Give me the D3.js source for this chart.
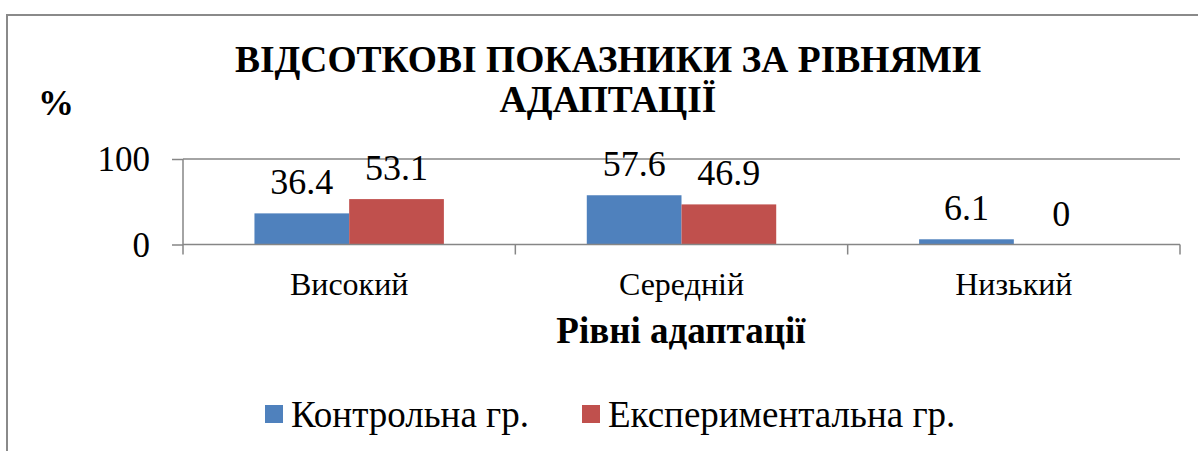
<!DOCTYPE html>
<html><head><meta charset="utf-8">
<script src="https://cdn.jsdelivr.net/npm/d3@7/dist/d3.min.js"></script>
<style>body{margin:0;background:#fff}svg{display:block}</style>
</head><body>
<svg id="c" width="1198" height="451"></svg>
<script>
const categories = ["Високий", "Середній", "Низький"];
const seriesNames = ["Контрольна гр.", "Експериментальна гр."];
const control = [36.4, 57.6, 6.1];
const experimental = [53.1, 46.9, 0];
const yTicks = [0, 100];
const colors = ["#4F81BD", "#C0504D"];
const titleLines = ["ВІДСОТКОВІ ПОКАЗНИКИ ЗА РІВНЯМИ", "АДАПТАЦІЇ"];
const xTitle = "Рівні адаптації";
const yTitle = "%";

(function () {
const FONT = "'Liberation Serif', 'Times New Roman', serif";
const svg = d3.select("#c");
const pL = 183, pR = 1180, pT = 159, pB = 244.5;
const axisColor = "#868686";

svg.append("rect").attr("x", 7).attr("y", 15).attr("width", 1205).attr("height", 460)
  .attr("fill", "none").attr("stroke", "#8a8a8a").attr("stroke-width", 2);

const x = d3.scaleBand().domain(categories).range([pL, pR]).paddingInner(0.43).paddingOuter(0.215);
const x0 = d3.scaleBand().domain(categories).range([pL, pR]).padding(0);
const xs = d3.scaleBand().domain(seriesNames).range([0, x.bandwidth()]).padding(0);
const y = d3.scaleLinear().domain([0, 100]).range([pB, pT]);

const yAxis = d3.axisLeft(y).tickValues(yTicks).tickSize(11).tickPadding(22).tickFormat(d3.format("d"));
const ga = svg.append("g").attr("transform", `translate(${pL},0)`).call(yAxis);
ga.select(".domain").remove();
ga.selectAll(".tick line").attr("stroke", axisColor).attr("stroke-width", 1.5);
ga.selectAll(".tick text").attr("font-size", 35).attr("dy", "0.34em");

svg.selectAll("line.grid").data(yTicks.filter(d => d > 0)).enter().append("line")
  .attr("class", "grid").attr("x1", pL).attr("x2", pR)
  .attr("y1", d => y(d)).attr("y2", d => y(d))
  .attr("stroke", axisColor).attr("stroke-width", 1.5);

const data = categories.map((c, i) => ({c, vals: [control[i], experimental[i]]}));
const groups = svg.selectAll("g.grp").data(data).enter().append("g").attr("class", "grp")
  .attr("transform", d => `translate(${x(d.c)},0)`);
groups.selectAll("rect").data(d => d.vals.map((v, j) => ({v, s: seriesNames[j], j}))).enter().append("rect")
  .attr("x", d => xs(d.s)).attr("width", xs.bandwidth())
  .attr("y", d => y(d.v)).attr("height", d => y(0) - y(d.v))
  .attr("fill", d => colors[d.j]);
groups.selectAll("text").data(d => d.vals.map((v, j) => ({v, s: seriesNames[j], j}))).enter().append("text")
  .attr("x", d => xs(d.s) + xs.bandwidth() / 2).attr("y", d => y(d.v) - 19)
  .attr("text-anchor", "middle").attr("font-size", 36)
  .text(d => d3.format("")(d.v));

svg.append("line").attr("x1", pL).attr("x2", pR).attr("y1", y(0)).attr("y2", y(0))
  .attr("stroke", axisColor).attr("stroke-width", 1.5);
svg.append("line").attr("x1", pL).attr("x2", pL).attr("y1", pT).attr("y2", y(0) + 10)
  .attr("stroke", axisColor).attr("stroke-width", 1.5);
const bounds = categories.map(c => x0(c)).concat([x0(categories[categories.length - 1]) + x0.bandwidth()]);
svg.selectAll("line.xt").data(bounds.slice(1)).enter().append("line").attr("class", "xt")
  .attr("x1", d => d).attr("x2", d => d).attr("y1", y(0)).attr("y2", y(0) + 10)
  .attr("stroke", axisColor).attr("stroke-width", 1.5);
svg.selectAll("text.cat").data(categories).enter().append("text").attr("class", "cat")
  .attr("x", d => x0(d) + x0.bandwidth() / 2).attr("y", 295)
  .attr("text-anchor", "middle").attr("font-size", 32).text(d => d);

svg.selectAll("text.title").data(titleLines).enter().append("text").attr("class", "title")
  .attr("x", 608).attr("y", (d, i) => 72 + i * 40)
  .attr("text-anchor", "middle").attr("font-size", 37.5).attr("font-weight", "bold").text(d => d);
svg.append("text").attr("x", 681).attr("y", 343).attr("text-anchor", "middle")
  .attr("font-size", 37).attr("font-weight", "bold").text(xTitle);
svg.append("text").attr("x", 38).attr("y", 115)
  .attr("font-size", 36).attr("font-weight", "bold").text(yTitle);

const legX = [265, 582];
const lg = svg.selectAll("g.leg").data(seriesNames).enter().append("g").attr("class", "leg")
  .attr("transform", (d, i) => `translate(${legX[i]},0)`);
lg.append("rect").attr("x", 0).attr("y", 405).attr("width", 18).attr("height", 18).attr("fill", (d, i) => colors[i]);
lg.append("text").attr("class", "legt").attr("x", 26).attr("y", 427).attr("font-size", 37).text(d => d);

svg.selectAll("text").style("font-family", FONT, "important").style("fill", "#000");
})();
</script>
</body></html>
